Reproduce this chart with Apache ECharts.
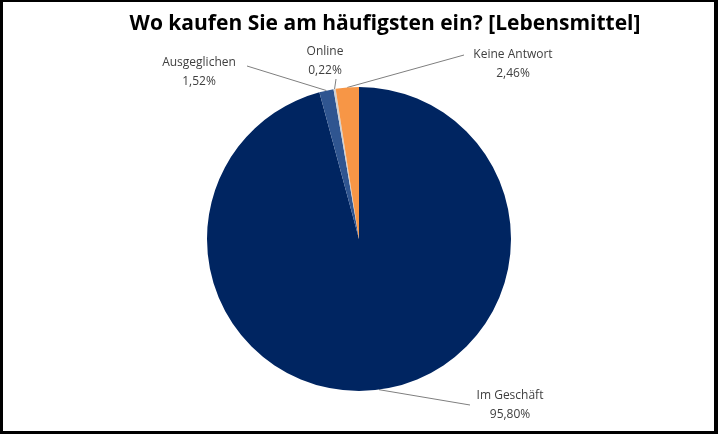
<!DOCTYPE html>
<html>
<head>
<meta charset="utf-8">
<script src="https://cdn.jsdelivr.net/npm/echarts@6/dist/echarts.min.js"></script>
<style>
html, body { margin: 0; padding: 0; background: #fff; }
#main {
    width: 718px; height: 434px; box-sizing: border-box;
    border-style: solid; border-color: #000;
    border-width: 2px 4px 3px 3px;
}
</style>
</head>
<body>
<div id="main"></div>
<script>
// Werte aus dem Bild (Prozent)
var categories = ['Im Geschäft', 'Ausgeglichen', 'Online', 'Keine Antwort'];
var values = [95.80, 1.52, 0.22, 2.46];
var colors = ['#002561', '#2f5590', '#d0d0d0', '#f79646'];
var labelText = ['95,80%', '1,52%', '0,22%', '2,46%'];

// Position der Beschriftungen (Mittelpunkt des Textblocks) und Knick der Linie
var labelPos = {
    'Im Geschäft':   { x: 507, y: 403, line: [467, 403] },
    'Ausgeglichen':  { x: 196, y: 70,  line: [244, 64] },
    'Online':        { x: 322, y: 59,  line: [333, 77] },
    'Keine Antwort': { x: 510, y: 62,  line: [461, 53] }
};

var myChart = echarts.init(document.getElementById('main'));
var option = {
    animation: false,
    title: {
        text: 'Wo kaufen Sie am häufigsten ein? [Lebensmittel]',
        left: 377, top: 7, textAlign: 'center',
        textStyle: { fontFamily: 'Open Sans', fontWeight: 'bold', fontSize: 21, color: '#000' }
    },
    series: [{
        type: 'pie',
        center: [356, 237],
        radius: 152,
        startAngle: 90,
        clockwise: true,
        avoidLabelOverlap: false,
        data: categories.map(function(c, i) {
            return { name: c, value: values[i], itemStyle: { color: colors[i] } };
        }),
        label: {
            show: true,
            formatter: function(p) { return p.name + '\n' + labelText[p.dataIndex]; },
            fontFamily: 'Open Sans',
            fontSize: 12,
            lineHeight: 19,
            color: '#404040',
            align: 'center'
        },
        labelLine: { show: true, lineStyle: { color: '#7f7f7f', width: 1 } },
        labelLayout: function(params) {
            var pos = labelPos[categories[params.dataIndex]];
            var start = params.labelLinePoints ? params.labelLinePoints[0] : [pos.x, pos.y];
            return {
                x: pos.x, y: pos.y,
                align: 'center', verticalAlign: 'middle',
                labelLinePoints: [start, pos.line, pos.line]
            };
        }
    }]
};
myChart.setOption(option);
</script>
</body>
</html>
